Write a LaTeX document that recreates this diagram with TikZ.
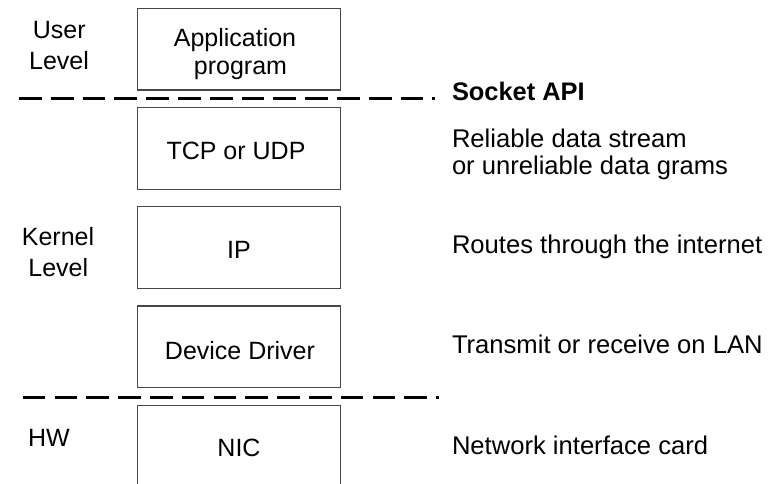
\documentclass[tikz,border=0pt]{standalone}
\usepackage{fontspec}
\setmainfont{Liberation Sans}
\begin{document}
\begin{tikzpicture}[x=1pt,y=-1pt,
  every node/.style={font=\fontsize{25}{29}\selectfont, inner sep=0pt, outer sep=0pt},
  layerbox/.style={draw=black!72, line width=1.2pt, minimum width=203pt, minimum height=81.8pt, anchor=north west},
  txt/.style={anchor=base},
  ltxt/.style={anchor=base west, font=\fontsize{25.6}{29}\selectfont},
  sepline/.style={line width=3pt, dash pattern=on 22.7pt off 9.1pt}]
\useasboundingbox (0,0) rectangle (781,483);
\clip (0,0) rectangle (781,483);
% layer boxes
\node[layerbox] (app) at (137.5,8.2) {};
\node[layerbox] (tcp) at (137.5,107.5) {};
\node[layerbox] (ip) at (137.5,206.7) {};
\node[layerbox] (dd) at (137.5,306) {};
\node[layerbox, minimum height=100pt] (nic) at (137.5,405.3) {};
% box texts
\node[txt] (apptxta) at (235,46) {Application};
\node[txt] (apptxtb) at (240.5,74) {program};
\node[txt] (tcptxt) at (236,159) {TCP or UDP};
\node[txt] (iptxt) at (239,258) {IP};
\node[txt] (ddtxt) at (240,359) {Device Driver};
\node[txt] (nictxt) at (239,456) {NIC};
% left labels
\node[txt] (user) at (59.3,38.3) {User};
\node[txt] (ulevel) at (59,69.3) {Level};
\node[txt] (kernel) at (58,245) {Kernel};
\node[txt] (klevel) at (58.3,276) {Level};
\node[txt, anchor=base west] (hw) at (28,446.7) {HW};
% right labels
\node[ltxt, font=\fontsize{25.4}{29}\selectfont\bfseries] (api) at (452,100.7) {Socket API};
\node[ltxt] (ra) at (452,147) {Reliable data stream};
\node[ltxt] (rb) at (452,174) {or unreliable data grams};
\node[ltxt] (rc) at (452,253) {Routes through the internet};
\node[ltxt] (rd) at (452,353) {Transmit or receive on LAN};
\node[ltxt] (re) at (452,454) {Network interface card};
% separators
\coordinate (sa1) at (19,98.3);
\coordinate (sa2) at (434.5,98.3);
\coordinate (sb1) at (22.7,397.3);
\coordinate (sb2) at (439,397.3);
\draw[sepline] (sa1) -- (sa2);
\draw[sepline] (sb1) -- (sb2);
\end{tikzpicture}
\end{document}
